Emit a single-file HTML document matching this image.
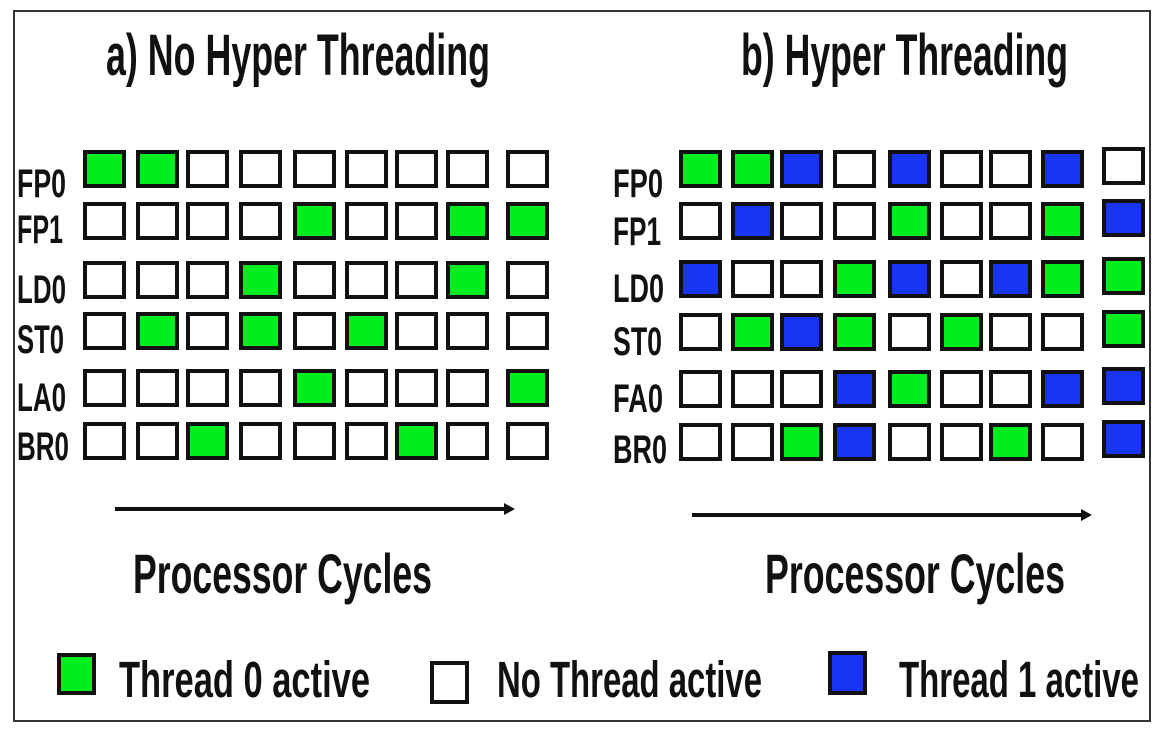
<!DOCTYPE html>
<html><head><meta charset="utf-8"><style>
html,body{margin:0;padding:0;background:#fff;}
svg{display:block}
text{font-family:"Liberation Sans",Arial,sans-serif;font-weight:bold;fill:#111;}
.e{fill:#fff;stroke:#111;stroke-width:4}
.g{fill:#00ee1e;stroke:#111;stroke-width:4}
.b{fill:#1a35f2;stroke:#111;stroke-width:4}
</style></head><body>
<svg width="1162" height="736" viewBox="0 0 1162 736" xmlns="http://www.w3.org/2000/svg">
<rect x="14" y="11" width="1136" height="710" fill="#fff" stroke="#333" stroke-width="2"/>
<text x="106" y="75" font-size="58" textLength="384" lengthAdjust="spacingAndGlyphs">a) No Hyper Threading</text>
<text x="741" y="75" font-size="58" textLength="327" lengthAdjust="spacingAndGlyphs">b) Hyper Threading</text>

<g font-size="40">
<text x="17" y="197" textLength="49" lengthAdjust="spacingAndGlyphs">FP0</text>
<text x="17" y="243" textLength="46" lengthAdjust="spacingAndGlyphs">FP1</text>
<text x="17" y="303" textLength="49" lengthAdjust="spacingAndGlyphs">LD0</text>
<text x="17" y="353" textLength="47" lengthAdjust="spacingAndGlyphs">ST0</text>
<text x="17" y="411" textLength="49" lengthAdjust="spacingAndGlyphs">LA0</text>
<text x="17" y="460" textLength="52" lengthAdjust="spacingAndGlyphs">BR0</text>
<text x="613" y="197" textLength="50" lengthAdjust="spacingAndGlyphs">FP0</text>
<text x="613" y="245" textLength="48" lengthAdjust="spacingAndGlyphs">FP1</text>
<text x="613" y="302" textLength="51" lengthAdjust="spacingAndGlyphs">LD0</text>
<text x="613" y="355" textLength="49" lengthAdjust="spacingAndGlyphs">ST0</text>
<text x="613" y="412" textLength="50" lengthAdjust="spacingAndGlyphs">FA0</text>
<text x="613" y="463" textLength="54" lengthAdjust="spacingAndGlyphs">BR0</text>
</g>

<!-- Left grid -->
<g>
<!-- FP0 -->
<rect class="g" x="85" y="152" width="39" height="34"/><rect class="g" x="138" y="152" width="39" height="34"/><rect class="e" x="188" y="152" width="39" height="34"/><rect class="e" x="241" y="152" width="39" height="34"/><rect class="e" x="295" y="152" width="39" height="34"/><rect class="e" x="347" y="152" width="39" height="34"/><rect class="e" x="397" y="152" width="39" height="34"/><rect class="e" x="448" y="152" width="39" height="34"/><rect class="e" x="508" y="152" width="39" height="34"/>
<!-- FP1 -->
<rect class="e" x="85" y="204" width="39" height="34"/><rect class="e" x="138" y="204" width="39" height="34"/><rect class="e" x="188" y="204" width="39" height="34"/><rect class="e" x="241" y="204" width="39" height="34"/><rect class="g" x="295" y="204" width="39" height="34"/><rect class="e" x="347" y="204" width="39" height="34"/><rect class="e" x="397" y="204" width="39" height="34"/><rect class="g" x="448" y="204" width="39" height="34"/><rect class="g" x="508" y="204" width="39" height="34"/>
<!-- LD0 -->
<rect class="e" x="85" y="263" width="39" height="34"/><rect class="e" x="138" y="263" width="39" height="34"/><rect class="e" x="188" y="263" width="39" height="34"/><rect class="g" x="241" y="263" width="39" height="34"/><rect class="e" x="295" y="263" width="39" height="34"/><rect class="e" x="347" y="263" width="39" height="34"/><rect class="e" x="397" y="263" width="39" height="34"/><rect class="g" x="448" y="263" width="39" height="34"/><rect class="e" x="508" y="263" width="39" height="34"/>
<!-- ST0 -->
<rect class="e" x="85" y="314" width="39" height="34"/><rect class="g" x="138" y="314" width="39" height="34"/><rect class="e" x="188" y="314" width="39" height="34"/><rect class="g" x="241" y="314" width="39" height="34"/><rect class="e" x="295" y="314" width="39" height="34"/><rect class="g" x="347" y="314" width="39" height="34"/><rect class="e" x="397" y="314" width="39" height="34"/><rect class="e" x="448" y="314" width="39" height="34"/><rect class="e" x="508" y="314" width="39" height="34"/>
<!-- LA0 -->
<rect class="e" x="85" y="371" width="39" height="34"/><rect class="e" x="138" y="371" width="39" height="34"/><rect class="e" x="188" y="371" width="39" height="34"/><rect class="e" x="241" y="371" width="39" height="34"/><rect class="g" x="295" y="371" width="39" height="34"/><rect class="e" x="347" y="371" width="39" height="34"/><rect class="e" x="397" y="371" width="39" height="34"/><rect class="e" x="448" y="371" width="39" height="34"/><rect class="g" x="508" y="371" width="39" height="34"/>
<!-- BR0 -->
<rect class="e" x="85" y="424" width="39" height="34"/><rect class="e" x="138" y="424" width="39" height="34"/><rect class="g" x="188" y="424" width="39" height="34"/><rect class="e" x="241" y="424" width="39" height="34"/><rect class="e" x="295" y="424" width="39" height="34"/><rect class="e" x="347" y="424" width="39" height="34"/><rect class="g" x="397" y="424" width="39" height="34"/><rect class="e" x="448" y="424" width="39" height="34"/><rect class="e" x="508" y="424" width="39" height="34"/>
</g>

<!-- Right grid -->
<g>
<!-- FP0 -->
<rect class="g" x="681" y="152" width="39" height="34"/><rect class="g" x="733" y="152" width="39" height="34"/><rect class="b" x="782" y="152" width="39" height="34"/><rect class="e" x="835" y="152" width="39" height="34"/><rect class="b" x="890" y="152" width="39" height="34"/><rect class="e" x="942" y="152" width="39" height="34"/><rect class="e" x="991" y="152" width="39" height="34"/><rect class="b" x="1043" y="152" width="39" height="34"/><rect class="e" x="1104" y="149" width="39" height="34"/>
<!-- FP1 -->
<rect class="e" x="681" y="204" width="39" height="34"/><rect class="b" x="733" y="204" width="39" height="34"/><rect class="e" x="782" y="204" width="39" height="34"/><rect class="e" x="835" y="204" width="39" height="34"/><rect class="g" x="890" y="204" width="39" height="34"/><rect class="e" x="942" y="204" width="39" height="34"/><rect class="e" x="991" y="204" width="39" height="34"/><rect class="g" x="1043" y="204" width="39" height="34"/><rect class="b" x="1104" y="201" width="39" height="34"/>
<!-- LD0 -->
<rect class="b" x="681" y="262" width="39" height="34"/><rect class="e" x="733" y="262" width="39" height="34"/><rect class="e" x="782" y="262" width="39" height="34"/><rect class="g" x="835" y="262" width="39" height="34"/><rect class="b" x="890" y="262" width="39" height="34"/><rect class="e" x="942" y="262" width="39" height="34"/><rect class="b" x="991" y="262" width="39" height="34"/><rect class="g" x="1043" y="262" width="39" height="34"/><rect class="g" x="1104" y="259" width="39" height="34"/>
<!-- ST0 -->
<rect class="e" x="681" y="315" width="39" height="34"/><rect class="g" x="733" y="315" width="39" height="34"/><rect class="b" x="782" y="315" width="39" height="34"/><rect class="g" x="835" y="315" width="39" height="34"/><rect class="e" x="890" y="315" width="39" height="34"/><rect class="g" x="942" y="315" width="39" height="34"/><rect class="e" x="991" y="315" width="39" height="34"/><rect class="e" x="1043" y="315" width="39" height="34"/><rect class="g" x="1104" y="312" width="39" height="34"/>
<!-- FA0 -->
<rect class="e" x="681" y="372" width="39" height="34"/><rect class="e" x="733" y="372" width="39" height="34"/><rect class="e" x="782" y="372" width="39" height="34"/><rect class="b" x="835" y="372" width="39" height="34"/><rect class="g" x="890" y="372" width="39" height="34"/><rect class="e" x="942" y="372" width="39" height="34"/><rect class="e" x="991" y="372" width="39" height="34"/><rect class="b" x="1043" y="372" width="39" height="34"/><rect class="b" x="1104" y="369" width="39" height="34"/>
<!-- BR0 -->
<rect class="e" x="681" y="425" width="39" height="34"/><rect class="e" x="733" y="425" width="39" height="34"/><rect class="g" x="782" y="425" width="39" height="34"/><rect class="b" x="835" y="425" width="39" height="34"/><rect class="e" x="890" y="425" width="39" height="34"/><rect class="e" x="942" y="425" width="39" height="34"/><rect class="g" x="991" y="425" width="39" height="34"/><rect class="e" x="1043" y="425" width="39" height="34"/><rect class="b" x="1104" y="422" width="39" height="34"/>
</g>

<!-- arrows -->
<line x1="115" y1="509" x2="506" y2="509" stroke="#111" stroke-width="4"/>
<polygon points="504,503 515,509 504,515" fill="#111"/>
<line x1="692" y1="515" x2="1083" y2="515" stroke="#111" stroke-width="4"/>
<polygon points="1081,509 1092,515 1081,521" fill="#111"/>

<text x="133" y="593" font-size="56" textLength="299" lengthAdjust="spacingAndGlyphs">Processor Cycles</text>
<text x="765" y="593" font-size="56" textLength="300" lengthAdjust="spacingAndGlyphs">Processor Cycles</text>

<!-- legend -->
<rect class="g" x="59" y="655" width="35" height="38"/>
<text x="119" y="697" font-size="51" textLength="251" lengthAdjust="spacingAndGlyphs">Thread 0  active</text>
<rect class="e" x="432" y="663" width="35" height="39"/>
<text x="497" y="697" font-size="51" textLength="265" lengthAdjust="spacingAndGlyphs">No Thread active</text>
<rect class="b" x="830" y="653" width="35" height="40"/>
<text x="899" y="697" font-size="51" textLength="240" lengthAdjust="spacingAndGlyphs">Thread 1 active</text>
</svg>
</body></html>
